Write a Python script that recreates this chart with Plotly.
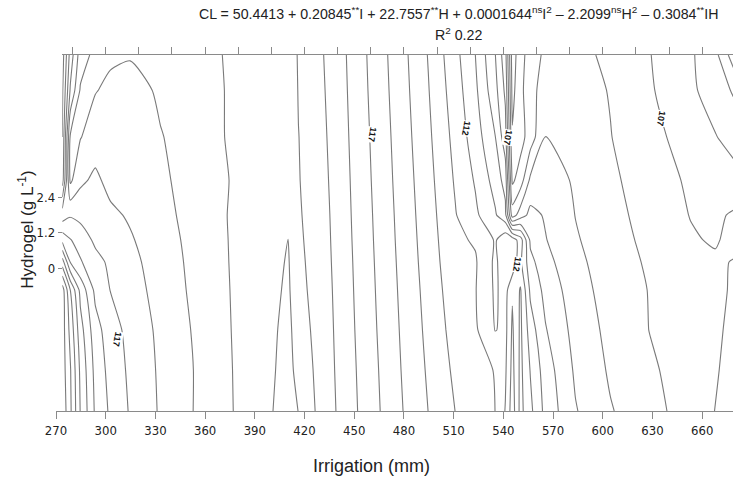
import plotly.graph_objects as go

# ---- data ----
# Irrigation (mm) grid columns
irrigation = [273.8, 278.6, 284.7, 293.7, 302.8, 314.8, 333.0, 354.1, 378.2, 400.6,
              410.2, 416.3, 426.5, 439.2, 451.9, 465.8, 479.6, 494.7, 511.0, 523.1,
              535.2, 541.2, 545.4, 550.3, 556.3, 565.4, 583.5, 604.6, 628.7, 652.9,
              668.0, 678.8]
# Hydrogel grid rows (top to bottom)
hydrogel = [7.2, 6.01, 4.43, 2.97, 1.79, 0.95, 0.2, -0.74, -2.09, -3.45, -4.83]

# CL values (rows top to bottom, columns left to right)
cl_rows = [
    [113.5, 116.4, 118.5, 119.3, 119.15, 119.08, 119.5, 119.75, 120.12, 120.6, 120.7, 119.9, 119.33, 118.5, 117.45, 116.35, 115.25, 113.95, 112.3, 111.0, 109.0, 107.4, 103.5, 104.6, 105.5, 106.2, 106.35, 105.75, 105.02, 104.15, 103.28, 101.5],
    [113.8, 117.1, 119.1, 119.05, 118.8, 118.6, 119.15, 119.6, 120.15, 120.6, 120.75, 119.95, 119.39, 118.55, 117.5, 116.41, 115.32, 114.05, 112.47, 111.2, 109.3, 107.8, 103.7, 104.7, 105.7, 106.4, 106.4, 105.95, 105.1, 104.2, 103.5, 102.9],
    [114.0, 119.1, 119.05, 118.5, 118.4, 118.45, 118.95, 119.45, 120.2, 120.6, 120.8, 120.02, 119.48, 118.61, 117.58, 116.5, 115.42, 114.19, 112.69, 111.5, 110.0, 108.4, 104.1, 104.6, 105.5, 107.02, 106.65, 106.03, 105.31, 104.55, 104.05, 103.6],
    [114.5, 119.2, 118.2, 117.8, 118.3, 118.5, 118.85, 119.35, 120.12, 120.6, 120.85, 120.05, 119.56, 118.67, 117.65, 116.57, 115.51, 114.32, 112.89, 111.9, 110.6, 109.6, 104.8, 105.5, 107.2, 107.6, 106.85, 106.19, 105.48, 104.85, 104.55, 104.4],
    [117.6, 117.1, 117.3, 117.55, 117.8, 118.12, 118.69, 119.37, 120.16, 120.65, 120.9, 120.1, 119.63, 118.72, 117.7, 116.64, 115.58, 114.42, 113.06, 112.2, 111.1, 110.3, 106.5, 107.5, 108.3, 107.9, 106.98, 106.32, 105.62, 104.97, 104.85, 105.1],
    [115.3, 115.95, 116.4, 117.2, 117.43, 117.9, 118.57, 119.31, 120.15, 120.7, 121.01, 120.15, 119.67, 118.75, 117.74, 116.68, 115.63, 114.49, 113.18, 112.9, 111.9, 112.7, 112.6, 111.5, 108.8, 108.05, 107.1, 106.42, 105.73, 105.1, 104.9, 105.3],
    [112.5, 115.0, 115.9, 116.65, 117.2, 117.72, 118.47, 119.27, 120.14, 120.75, 121.08, 120.2, 119.71, 118.78, 117.78, 116.72, 115.68, 114.55, 113.28, 113.1, 111.8, 112.7, 112.8, 111.2, 109.3, 108.33, 107.25, 106.5, 105.85, 105.25, 105.15, 104.95],
    [109.5, 112.0, 114.3, 116.25, 117.02, 117.55, 118.38, 119.22, 120.12, 120.8, 121.15, 120.25, 119.77, 118.82, 117.82, 116.77, 115.74, 114.64, 113.42, 113.05, 111.85, 112.4, 111.1, 112.1, 109.8, 108.7, 107.43, 106.58, 105.95, 105.35, 105.2, 104.9],
    [109.5, 111.3, 113.6, 115.6, 116.55, 117.33, 118.22, 119.12, 120.1, 120.85, 121.3, 120.4, 119.84, 118.87, 117.88, 116.84, 115.82, 114.75, 113.6, 113.15, 111.95, 112.3, 110.85, 112.2, 110.5, 109.07, 107.65, 106.72, 105.97, 105.45, 105.15, 104.8],
    [109.5, 110.9, 113.2, 115.3, 116.35, 117.2, 118.15, 119.05, 120.07, 120.9, 121.4, 120.6, 119.91, 118.92, 117.95, 116.92, 115.9, 114.87, 113.8, 113.35, 112.95, 112.15, 110.7, 112.25, 110.95, 109.5, 107.85, 106.87, 106.15, 105.5, 105.08, 104.7],
    [109.3, 110.8, 113.05, 115.15, 116.17, 117.1, 118.11, 119.06, 120.05, 120.98, 121.5, 120.98, 119.99, 118.98, 118.01, 116.99, 115.99, 114.99, 113.99, 113.5, 112.99, 111.95, 110.5, 112.3, 111.23, 109.7, 108.07, 107.07, 106.34, 105.52, 104.98, 104.6],
]

x_ticks = [270, 300, 330, 360, 390, 420, 450, 480, 510, 540, 570, 600, 630, 660]
top_ticks = [280, 300, 320, 340, 360, 380, 400, 420, 440, 460, 480, 500, 520, 540, 560, 580, 600, 620, 640, 660]
y_ticks = [0, 1.2, 2.4]
y_ticktext = ["0", "1.2", "2.4"]

# contour labels as printed on the reference
label_text = ["117", "117", "112", "107", "112", "107"]
label_x = [306.8, 460.7, 517.5, 542.8, 548.5, 635.2]
label_y = [-2.43, 4.49, 4.73, 4.43, 0.12, 5.07]

title_line1 = ("CL = 50.4413 + 0.20845<sup>**</sup>I + 22.7557<sup>**</sup>H + "
               "0.0001644<sup>ns</sup>I<sup>2</sup> – 2.2099<sup>ns</sup>H<sup>2</sup> – "
               "0.3084<sup>**</sup>IH")
title_line2 = "R<sup>2</sup> 0.22"

# ---- figure ----
narrow = "DejaVu Sans Condensed, Liberation Sans Narrow, Arial Narrow, Liberation Sans, sans-serif"
regular = "Liberation Sans, Arial, sans-serif"
axis_gray = "#8a8a8a"

fig = go.Figure()
fig.add_trace(go.Contour(
    x=irrigation,
    y=hydrogel[::-1],
    z=cl_rows[::-1],
    autocontour=False,
    contours=dict(start=100, end=122, size=1, coloring="lines", showlines=True),
    colorscale=[[0, "#7a7a7a"], [1, "#7a7a7a"]],
    line=dict(width=1.1, smoothing=0.6),
    showscale=False,
    hoverinfo="skip",
))
# carrier for the top tick axis
fig.add_trace(go.Scatter(x=[None], y=[None], xaxis="x2", yaxis="y",
                         showlegend=False, hoverinfo="skip"))

x_lo, x_hi = 270, 678.6
fig.update_layout(
    width=733, height=479,
    margin=dict(l=56, r=0, t=55, b=68),
    paper_bgcolor="white", plot_bgcolor="rgba(0,0,0,0)",
    showlegend=False,
    xaxis=dict(
        range=[x_lo, x_hi], tickmode="array", tickvals=x_ticks,
        ticks="outside", ticklen=7, tickwidth=1.2, tickcolor=axis_gray,
        showline=True, linecolor=axis_gray, linewidth=1.3,
        showgrid=False, zeroline=False,
        tickfont=dict(family=narrow, size=13, color="#222"),
    ),
    xaxis2=dict(
        domain=[0.0084, 1], anchor="y", side="top",
        range=[273.44, x_hi], tickmode="array", tickvals=top_ticks,
        ticks="outside", ticklen=7, tickwidth=1.2, tickcolor=axis_gray,
        showline=True, linecolor=axis_gray, linewidth=1.3,
        showticklabels=False, showgrid=False, zeroline=False,
    ),
    yaxis=dict(
        range=[-4.83, 7.2], anchor="free", position=0.0084,
        tickmode="array", tickvals=y_ticks, ticktext=y_ticktext,
        ticks="outside", ticklen=4, tickwidth=1.2, tickcolor=axis_gray,
        showline=False, showgrid=False, zeroline=False,
        tickfont=dict(family=narrow, size=13, color="#222"),
    ),
)

annotations = [
    dict(text=title_line1, xref="paper", yref="paper", x=0.594, y=1.117,
         xanchor="center", yanchor="middle", showarrow=False,
         font=dict(family=regular, size=14.2, color="#222")),
    dict(text=title_line2, xref="paper", yref="paper", x=0.594, y=1.058,
         xanchor="center", yanchor="middle", showarrow=False,
         font=dict(family=regular, size=14.2, color="#222")),
    dict(text="Irrigation (mm)", xref="paper", yref="paper", x=0.466, y=-0.155,
         xanchor="center", yanchor="middle", showarrow=False,
         font=dict(family=regular, size=18, color="#222")),
    dict(text="Hydrogel (g L<sup>-1</sup>)", xref="paper", yref="paper", x=-0.044, y=0.51,
         xanchor="center", yanchor="middle", showarrow=False, textangle=-90,
         font=dict(family=regular, size=17, color="#222")),
]
for t, lx, ly in zip(label_text, label_x, label_y):
    annotations.append(dict(text="<b>" + t + "</b>", x=lx, y=ly, xref="x", yref="y",
                            showarrow=False, textangle=100, bgcolor="white", borderpad=0,
                            font=dict(family=regular, size=9, color="#111")))
fig.update_layout(annotations=annotations)

fig.write_html("out.html")
